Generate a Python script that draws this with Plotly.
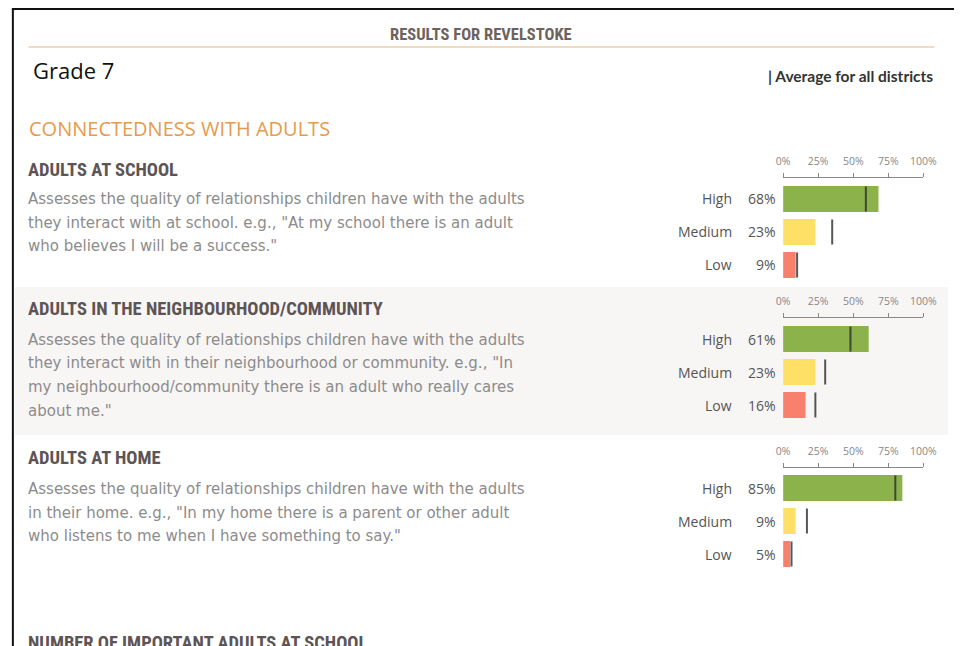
import plotly.graph_objects as go

W, H = 968, 646

# ---------------- data ----------------
levels = ["High", "Medium", "Low"]
tick_vals = [0, 25, 50, 75, 100]
tick_labels = ["0%", "25%", "50%", "75%", "100%"]

school_pct = [68, 23, 9]
school_avg = [59, 35, 10]

community_pct = [61, 23, 16]
community_avg = [48, 30, 23]

home_pct = [85, 9, 5]
home_avg = [80, 17, 6]

header_title = "RESULTS FOR REVELSTOKE"
grade_label = "Grade 7"
legend_label = "| Average for all districts"
group_title = "CONNECTEDNESS WITH ADULTS"
next_title = "NUMBER OF IMPORTANT ADULTS AT SCHOOL"

section_titles = ["ADULTS AT SCHOOL",
                  "ADULTS IN THE NEIGHBOURHOOD/COMMUNITY",
                  "ADULTS AT HOME"]
section_desc = [
    ["Assesses the quality of relationships children have with the adults",
     "they interact with at school. e.g., \"At my school there is an adult",
     "who believes I will be a success.\""],
    ["Assesses the quality of relationships children have with the adults",
     "they interact with in their neighbourhood or community. e.g., \"In",
     "my neighbourhood/community there is an adult who really cares",
     "about me.\""],
    ["Assesses the quality of relationships children have with the adults",
     "in their home. e.g., \"In my home there is a parent or other adult",
     "who listens to me when I have something to say.\""],
]
section_pct = [school_pct, community_pct, home_pct]
section_avg = [school_avg, community_avg, home_avg]

# ---------------- styling / layout constants ----------------
bar_colors = ["#8cb24c", "#ffe066", "#fa806e"]
COND = "Liberation Sans Narrow, Roboto Condensed, Arial Narrow, sans-serif"
BODY = "Open Sans, sans-serif"
DESC = "DejaVu Sans, sans-serif"

def px(x):
    return x / W

def py(y):
    return 1 - y / H

title_y = [170, 309, 458]
desc_y0 = [199, 340, 489]
axis_y = [177, 317, 467]
first_center = [199, 339, 488]
step = 33
x0_px, x100_px = 793.3, 936.7

fig = go.Figure()
annotations = []
shapes = []

# background band behind the second section
shapes.append(dict(type="rect", xref="paper", yref="paper",
                   x0=px(8), x1=px(962), y0=py(435), y1=py(287),
                   fillcolor="#f8f5f5", line=dict(width=0), layer="below"))
# page frame (top and left)
shapes.append(dict(type="line", xref="paper", yref="paper",
                   x0=px(5), x1=px(968), y0=py(9), y1=py(9),
                   line=dict(color="#111", width=2)))
shapes.append(dict(type="line", xref="paper", yref="paper",
                   x0=px(6), x1=px(6), y0=py(9), y1=py(646),
                   line=dict(color="#111", width=2)))
# header rule
shapes.append(dict(type="line", xref="paper", yref="paper",
                   x0=px(22), x1=px(948), y0=py(47), y1=py(47),
                   line=dict(color="#f2dcbf", width=2)))

annotations.append(dict(text="<b>" + header_title + "</b>", x=px(485), y=py(35),
                        xref="paper", yref="paper", xanchor="center", yanchor="middle",
                        showarrow=False, font=dict(family=COND, size=16.5, color="#6e625d")))
annotations.append(dict(text=grade_label, x=px(25), y=py(70),
                        xref="paper", yref="paper", xanchor="left", yanchor="middle",
                        showarrow=False, font=dict(family=BODY, size=22, color="#111")))
annotations.append(dict(text="<b>" + legend_label + "</b>", x=px(949), y=py(76),
                        xref="paper", yref="paper", xanchor="right", yanchor="middle",
                        showarrow=False, font=dict(family="Lato, sans-serif", size=15.5, color="#333")))
annotations.append(dict(text=group_title, x=px(20), y=py(128),
                        xref="paper", yref="paper", xanchor="left", yanchor="middle",
                        showarrow=False, font=dict(family=BODY, size=20, color="#e69b4c")))
annotations.append(dict(text="<b>" + next_title + "</b>", x=px(19), y=py(643),
                        xref="paper", yref="paper", xanchor="left", yanchor="middle",
                        showarrow=False, font=dict(family=COND, size=18.5, color="#5d5555")))

layout_axes = {}
for i in range(3):
    n = "" if i == 0 else str(i + 1)
    xa, ya = "x" + n, "y" + n
    annotations.append(dict(text="<b>" + section_titles[i] + "</b>", x=px(19), y=py(title_y[i]),
                            xref="paper", yref="paper", xanchor="left", yanchor="middle",
                            showarrow=False, font=dict(family=COND, size=18.5, color="#5d5555")))
    for j, line in enumerate(section_desc[i]):
        annotations.append(dict(text=line, x=px(19), y=py(desc_y0[i] + j * 23.5),
                                xref="paper", yref="paper", xanchor="left", yanchor="middle",
                                showarrow=False, font=dict(family=DESC, size=15, color="#8c8c8c")))
    fig.add_trace(go.Bar(x=section_pct[i], y=levels, orientation="h", width=0.79,
                         marker=dict(color=bar_colors, line=dict(width=0)),
                         xaxis=xa, yaxis=ya, showlegend=False, hoverinfo="x+y"))
    fig.add_trace(go.Scatter(x=section_avg[i], y=levels, mode="markers",
                             marker=dict(symbol="line-ns", size=18,
                                         line=dict(color="rgba(45,45,45,0.8)", width=2)),
                             xaxis=xa, yaxis=ya, showlegend=False, hoverinfo="x+y"))
    for k, lv in enumerate(levels):
        annotations.append(dict(text=lv, x=px(743), y=lv, xref="paper", yref=ya,
                                xanchor="right", yanchor="middle", showarrow=False,
                                font=dict(family=BODY, size=14, color="#555")))
        annotations.append(dict(text=f"{section_pct[i][k]}%", x=px(788), y=lv,
                                xref="paper", yref=ya, xanchor="right", yanchor="middle",
                                showarrow=False, font=dict(family=BODY, size=14, color="#555")))
    top = first_center[i] - step / 2
    bot = first_center[i] + 2 * step + step / 2
    layout_axes["xaxis" + n] = dict(domain=[px(x0_px), px(x100_px)], range=[0, 100],
                                    anchor="free", position=py(axis_y[i]), side="top",
                                    showline=True, linecolor="#888", linewidth=1,
                                    ticks="outside", ticklen=4, tickcolor="#888",
                                    tickmode="array", tickvals=tick_vals, ticktext=tick_labels,
                                    tickfont=dict(family=BODY, size=10.5, color="#888"),
                                    ticklabelstandoff=4,
                                    showgrid=False, zeroline=False, fixedrange=True)
    layout_axes["yaxis" + n] = dict(domain=[py(bot), py(top)], anchor=xa,
                                    categoryorder="array", categoryarray=levels,
                                    autorange="reversed", showticklabels=False,
                                    showgrid=False, zeroline=False, showline=False,
                                    ticks="", fixedrange=True)

fig.update_layout(width=W, height=H, margin=dict(l=0, r=0, t=0, b=0),
                  paper_bgcolor="white", plot_bgcolor="rgba(0,0,0,0)",
                  shapes=shapes, annotations=annotations, bargap=0.2,
                  **layout_axes)

post = (
    "document.documentElement.style.margin='0';"
    "document.documentElement.style.overflow='hidden';"
    "document.body.style.margin='0';document.body.style.padding='0';"
    "document.body.style.overflow='hidden';"
    "var gd=document.getElementById('{plot_id}');"
    "gd.style.position='fixed';gd.style.left='0px';gd.style.top='0px';"
)

fig.write_html("out.html", config={"displayModeBar": False, "responsive": False},
               post_script=post)
